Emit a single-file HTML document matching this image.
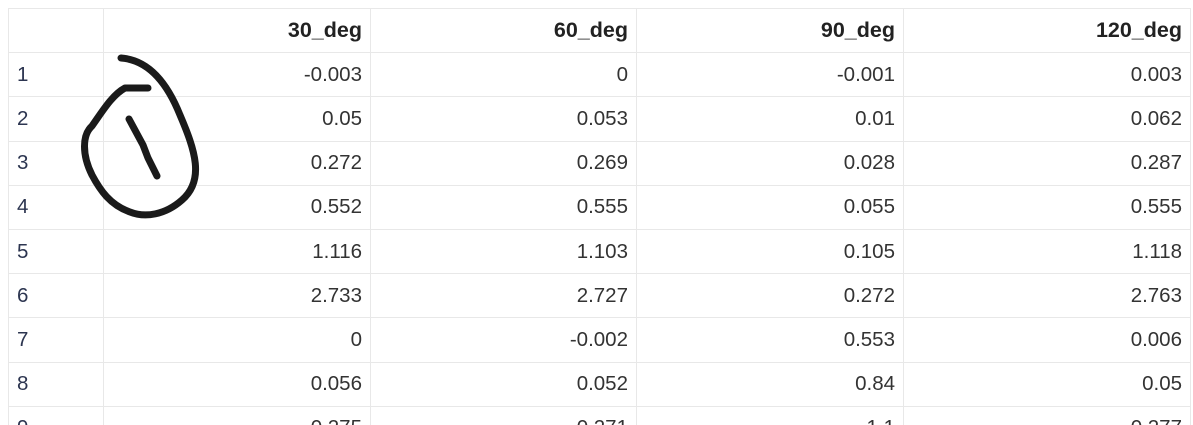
<!DOCTYPE html>
<html><head><meta charset="utf-8"><style>
html,body{margin:0;padding:0;background:#fff;width:1193px;height:425px;overflow:hidden;position:relative}
table{position:absolute;left:8px;top:8px;border-collapse:collapse;font-family:"Liberation Sans",sans-serif;font-size:20.5px;color:#333;table-layout:fixed}
td,th{border:1px solid #e8e8e8;height:44.2px;padding:0 8px;box-sizing:border-box;vertical-align:middle}
th{text-align:right;font-weight:bold;color:#222;font-size:21.5px}
td{text-align:right}
td.idx{text-align:left;color:#2c3550}
svg{position:absolute;left:0;top:0}
</style></head><body>
<table>
<colgroup><col style="width:95px"><col style="width:267px"><col style="width:266px"><col style="width:267px"><col style="width:287px"></colgroup>
<thead><tr><th></th><th>30_deg</th><th>60_deg</th><th>90_deg</th><th>120_deg</th></tr></thead>
<tbody>
<tr><td class="idx">1</td><td>-0.003</td><td>0</td><td>-0.001</td><td>0.003</td></tr>
<tr><td class="idx">2</td><td>0.05</td><td>0.053</td><td>0.01</td><td>0.062</td></tr>
<tr><td class="idx">3</td><td>0.272</td><td>0.269</td><td>0.028</td><td>0.287</td></tr>
<tr><td class="idx">4</td><td>0.552</td><td>0.555</td><td>0.055</td><td>0.555</td></tr>
<tr><td class="idx">5</td><td>1.116</td><td>1.103</td><td>0.105</td><td>1.118</td></tr>
<tr><td class="idx">6</td><td>2.733</td><td>2.727</td><td>0.272</td><td>2.763</td></tr>
<tr><td class="idx">7</td><td>0</td><td>-0.002</td><td>0.553</td><td>0.006</td></tr>
<tr><td class="idx">8</td><td>0.056</td><td>0.052</td><td>0.84</td><td>0.05</td></tr>
<tr><td class="idx">9</td><td>0.275</td><td>0.271</td><td>1.1</td><td>0.277</td></tr>
</tbody></table>
<svg width="1193" height="425">
<path d="M121 58 C150 60 168 85 180 115 C195 150 205 180 182 200 C165 215 145 218 130 212 C110 205 100 190 92 175 C82 155 82 135 92 126 C102 112 112 95 125 88 L148 88" fill="none" stroke="#1a1a1a" stroke-width="7" stroke-linecap="round" stroke-linejoin="round"/>
<path d="M129 119 L143 145 L148 158 L157 176" fill="none" stroke="#1a1a1a" stroke-width="7" stroke-linecap="round"/>
</svg>
</body></html>
